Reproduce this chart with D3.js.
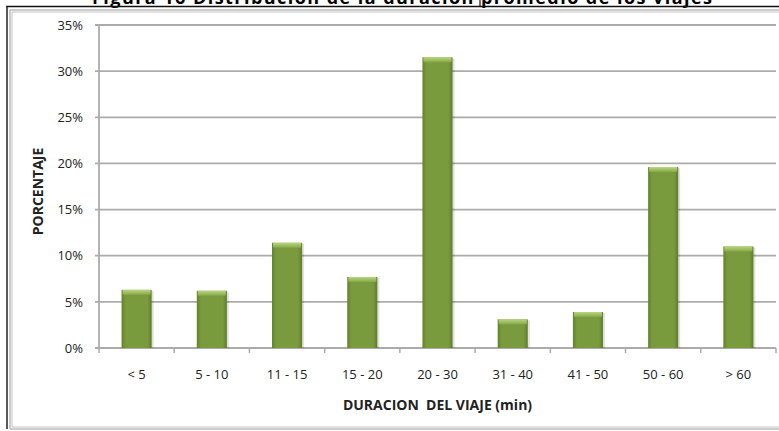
<!DOCTYPE html>
<html>
<head>
<meta charset="utf-8">
<script src="https://cdn.jsdelivr.net/npm/d3@7"></script>
<style>
  body { margin: 0; background: #fff; }
  svg { display: block; }
  text { font-family: "Open Sans", sans-serif; fill: #222; }
</style>
</head>
<body>
<div id="chart"></div>
<script>
// categories and percentages
const categories = ["< 5", "5 - 10", "11 - 15", "15 - 20", "20 - 30", "31 - 40", "41 - 50", "50 - 60", "> 60"];
const percentages = [6.3, 6.2, 11.4, 7.7, 31.5, 3.1, 3.9, 19.6, 11.0];
const yTicks = [0, 5, 10, 15, 20, 25, 30, 35];

const titleText = "Figura 16 Distribución de la duración promedio de los viajes";
const yTitle = "PORCENTAJE";
const xTitle = "DURACION  DEL VIAJE (min)";

const width = 779, height = 431;
const plot = { left: 99, right: 776, top: 25, bottom: 348 };

const svg = d3.select("#chart").append("svg")
    .attr("width", width)
    .attr("height", height);

const defs = svg.append("defs");

// bar body: darker edges, flat middle
const bodyGrad = defs.append("linearGradient").attr("id", "barBody")
    .attr("x1", "0%").attr("x2", "100%").attr("y1", "0%").attr("y2", "0%");
bodyGrad.append("stop").attr("offset", "0%").attr("stop-color", "#63822b");
bodyGrad.append("stop").attr("offset", "14%").attr("stop-color", "#7a9b3d");
bodyGrad.append("stop").attr("offset", "86%").attr("stop-color", "#7a9b3d");
bodyGrad.append("stop").attr("offset", "100%").attr("stop-color", "#5f7c29");

// bar top bevel: light green fading down
const capGrad = defs.append("linearGradient").attr("id", "barCap")
    .attr("x1", "0%").attr("x2", "0%").attr("y1", "0%").attr("y2", "100%");
capGrad.append("stop").attr("offset", "0%").attr("stop-color", "#b9d680");
capGrad.append("stop").attr("offset", "100%").attr("stop-color", "#86a849");

// title, mostly cut off at the top of the picture
svg.append("text")
    .attr("x", 402)
    .attr("y", 3.5)
    .attr("text-anchor", "middle")
    .attr("textLength", 620)
    .attr("lengthAdjust", "spacing")
    .style("font-size", "18px")
    .style("font-weight", "bold")
    .style("fill", "#000")
    .text(titleText);

// frame lines
svg.append("line").attr("x1", 6).attr("x2", width).attr("y1", 6.5).attr("y2", 6.5)
    .style("stroke", "#111").style("stroke-width", 1.5);
svg.append("line").attr("x1", 7).attr("x2", 7).attr("y1", 6).attr("y2", 429)
    .style("stroke", "#222").style("stroke-width", 1.5);
svg.append("line").attr("x1", 480).attr("x2", 480).attr("y1", 0).attr("y2", 6.5)
    .style("stroke", "#111").style("stroke-width", 1.2);

[{ o: 10, c: "#9a9a9a" }, { o: 12, c: "#c4c4c4" }].forEach(function(f) {
    svg.append("line").attr("x1", f.o).attr("x2", width).attr("y1", f.o).attr("y2", f.o)
        .style("stroke", f.c).style("stroke-width", 1);
    svg.append("line").attr("x1", f.o).attr("x2", f.o).attr("y1", f.o).attr("y2", 439 - f.o)
        .style("stroke", f.c).style("stroke-width", 1);
    svg.append("line").attr("x1", f.o).attr("x2", width).attr("y1", 439 - f.o).attr("y2", 439 - f.o)
        .style("stroke", f.c).style("stroke-width", 1);
});

// scales
const x = d3.scaleBand()
    .domain(categories)
    .range([plot.left, plot.right])
    .paddingInner(0.6)
    .paddingOuter(0.3);

const y = d3.scaleLinear()
    .domain([0, 35])
    .range([plot.bottom, plot.top]);

// gridlines
svg.append("g")
    .selectAll("line")
    .data(yTicks)
    .join("line")
    .attr("x1", plot.left - 4)
    .attr("x2", plot.right)
    .attr("y1", d => y(d))
    .attr("y2", d => y(d))
    .style("stroke", "#ababab")
    .style("stroke-width", 1.8);

// y axis line
svg.append("line")
    .attr("x1", plot.left).attr("x2", plot.left)
    .attr("y1", plot.top).attr("y2", plot.bottom)
    .style("stroke", "#ababab").style("stroke-width", 1.8);

// x ticks at band edges
const edges = categories.map(c => x(c) - x.step() * x.paddingInner() / 2);
edges.push(plot.right);
edges[0] = plot.left;
svg.append("g")
    .selectAll("line")
    .data(edges)
    .join("line")
    .attr("x1", d => d).attr("x2", d => d)
    .attr("y1", plot.bottom).attr("y2", plot.bottom + 5)
    .style("stroke", "#ababab").style("stroke-width", 1.5);

// y tick labels
svg.append("g")
    .selectAll("text")
    .data(yTicks)
    .join("text")
    .attr("x", 83)
    .attr("y", d => y(d))
    .attr("dy", "0.36em")
    .attr("text-anchor", "end")
    .style("font-size", "13px")
    .text(d => d + "%");

// bars
const bars = svg.append("g")
    .selectAll("g")
    .data(categories.map((c, i) => ({ cat: c, val: percentages[i] })))
    .join("g");

bars.append("rect")
    .attr("x", d => x(d.cat) + 2)
    .attr("y", d => y(d.val) + 1)
    .attr("width", x.bandwidth())
    .attr("height", d => plot.bottom - y(d.val) - 1)
    .style("fill", "#000")
    .style("opacity", 0.12);

bars.append("rect")
    .attr("x", d => x(d.cat))
    .attr("y", d => y(d.val))
    .attr("width", x.bandwidth())
    .attr("height", d => plot.bottom - y(d.val))
    .style("fill", "url(#barBody)");

bars.append("rect")
    .attr("x", d => x(d.cat) + 1)
    .attr("y", d => y(d.val))
    .attr("width", x.bandwidth() - 2)
    .attr("height", 5)
    .attr("rx", 1)
    .style("fill", "url(#barCap)");

// category labels
svg.append("g")
    .selectAll("text")
    .data(categories)
    .join("text")
    .attr("x", d => x(d) + x.bandwidth() / 2)
    .attr("y", 379)
    .attr("text-anchor", "middle")
    .style("font-size", "13px")
    .text(d => d);

// axis titles
svg.append("text")
    .attr("x", (plot.left + plot.right) / 2)
    .attr("y", 410)
    .attr("text-anchor", "middle")
    .style("font-size", "14px")
    .style("font-weight", "bold")
    .style("white-space", "pre")
    .text(xTitle);

svg.append("text")
    .attr("transform", "translate(43,191.5) rotate(-90)")
    .attr("text-anchor", "middle")
    .style("font-size", "14px")
    .style("font-weight", "bold")
    .text(yTitle);
</script>
</body>
</html>
